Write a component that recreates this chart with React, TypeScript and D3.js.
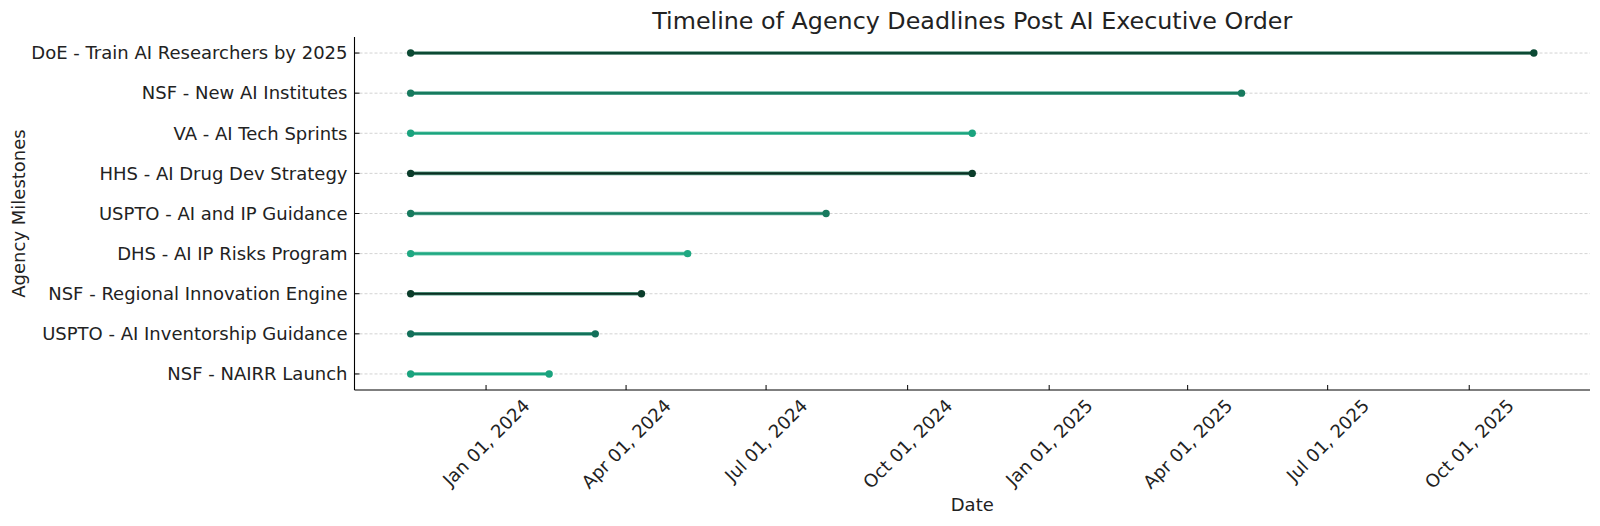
import React, { useEffect, useRef } from "react";
import * as d3 from "d3";

const milestones = [
  "NSF - NAIRR Launch",
  "USPTO - AI Inventorship Guidance",
  "NSF - Regional Innovation Engine",
  "DHS - AI IP Risks Program",
  "USPTO - AI and IP Guidance",
  "HHS - AI Drug Dev Strategy",
  "VA - AI Tech Sprints",
  "NSF - New AI Institutes",
  "DoE - Train AI Researchers by 2025",
];
const startDates = [
  "2023-11-13", "2023-11-13", "2023-11-13", "2023-11-13", "2023-11-13",
  "2023-11-13", "2023-11-13", "2023-11-13", "2023-11-13",
];
const endDates = [
  "2024-02-11", "2024-03-12", "2024-04-11", "2024-05-11", "2024-08-09",
  "2024-11-12", "2024-11-12", "2025-05-06", "2025-11-12",
];
const tickDates = [
  "2024-01-01", "2024-04-01", "2024-07-01", "2024-10-01",
  "2025-01-01", "2025-04-01", "2025-07-01", "2025-10-01",
];
const lineColors = ["#1aa37e", "#13705a", "#0a2f22", "#1fa882", "#177a5e", "#0a2f22", "#1aa37e", "#177a5e", "#0c4a34"];
const haloColors = ["#4cbf9c", "#3a9a80", "#2f8a6c", "#4cbf9c", "#3a9a80", "#2f8a6c", "#4cbf9c", "#3a9a80", "#3a7a62"];
const markerColors = ["#1aa37e", "#13705a", "#0b3d2b", "#1fa882", "#177a5e", "#0b3d2b", "#1aa37e", "#177a5e", "#0c4a34"];

const W = 1600, H = 526;
const L = 354.5, R = 1590, T = 37, B = 390;
const FONT = "DejaVu Sans, sans-serif";
const FS = 18;

export default function App() {
  const ref = useRef<SVGSVGElement>(null);
  useEffect(() => {
    const svg = d3.select(ref.current);
    svg.selectAll("*").remove();
    const parse = d3.utcParse("%Y-%m-%d");
    const s = startDates.map((d) => parse(d) as Date);
    const e = endDates.map((d) => parse(d) as Date);
    const minD = d3.min(s)!.getTime();
    const maxD = d3.max(e)!.getTime();
    const pad = (maxD - minD) * 0.05;
    const x = d3.scaleUtc().domain([new Date(minD - pad), new Date(maxD + pad)]).range([L, R]);
    const n = milestones.length;
    const y = d3.scaleLinear().domain([-0.4, n - 1 + 0.4]).range([B, T]);

    // grid
    svg.append("g").selectAll("line").data(milestones).join("line")
      .attr("x1", L).attr("x2", R)
      .attr("y1", (_, i) => y(i)).attr("y2", (_, i) => y(i))
      .attr("stroke", "#c8c8c8").attr("stroke-width", 0.8)
      .attr("stroke-dasharray", "3,2");

    // lines
    const g = svg.append("g");
    milestones.forEach((_, i) => {
      g.append("line").attr("x1", x(s[i])).attr("x2", x(e[i]))
        .attr("y1", y(i)).attr("y2", y(i))
        .attr("stroke", haloColors[i]).attr("stroke-width", 3.6).attr("opacity", 0.8);
      g.append("line").attr("x1", x(s[i])).attr("x2", x(e[i]))
        .attr("y1", y(i)).attr("y2", y(i))
        .attr("stroke", lineColors[i]).attr("stroke-width", 2.2);
      [s[i], e[i]].forEach((d) => {
        g.append("circle").attr("cx", x(d)).attr("cy", y(i)).attr("r", 3.7)
          .attr("fill", markerColors[i]);
      });
    });

    // spines
    svg.append("line").attr("x1", L).attr("x2", L).attr("y1", T).attr("y2", B)
      .attr("stroke", "#000").attr("stroke-width", 1.1);
    svg.append("line").attr("x1", L).attr("x2", R).attr("y1", B).attr("y2", B)
      .attr("stroke", "#000").attr("stroke-width", 1.1);

    // y ticks (inward) + labels
    milestones.forEach((m, i) => {
      svg.append("line").attr("x1", L).attr("x2", L + 5).attr("y1", y(i)).attr("y2", y(i))
        .attr("stroke", "#000").attr("stroke-width", 1);
      svg.append("text").attr("x", L - 7).attr("y", y(i)).attr("dy", "0.35em")
        .attr("text-anchor", "end").attr("font-family", FONT).attr("font-size", FS)
        .attr("fill", "#222").text(m);
    });

    // x ticks (inward) + rotated labels
    const fmt = d3.utcFormat("%b %d, %Y");
    tickDates.forEach((td) => {
      const d = parse(td) as Date;
      const xp = x(d);
      svg.append("line").attr("x1", xp).attr("x2", xp).attr("y1", B).attr("y2", B - 5)
        .attr("stroke", "#000").attr("stroke-width", 1);
      const t = svg.append("text").attr("font-family", FONT).attr("font-size", FS)
        .attr("fill", "#222").attr("text-anchor", "middle")
        .attr("dominant-baseline", "central").text(fmt(d));
      const w = (t.node() as SVGTextElement).getComputedTextLength();
      const h = FS * 1.0;
      const bh = (w + h) * Math.SQRT1_2;
      const cy = B + 6 + bh / 2;
      t.attr("x", xp).attr("y", cy).attr("transform", `rotate(-45,${xp},${cy})`);
    });

    // axis labels
    svg.append("text").attr("x", (L + R) / 2).attr("y", 511).attr("text-anchor", "middle")
      .attr("font-family", FONT).attr("font-size", FS).attr("fill", "#222").text("Date");
    svg.append("text").attr("transform", `translate(25,${(T + B) / 2}) rotate(-90)`)
      .attr("text-anchor", "middle").attr("font-family", FONT).attr("font-size", FS)
      .attr("fill", "#222").text("Agency Milestones");
    // title
    svg.append("text").attr("x", (L + R) / 2).attr("y", 29).attr("text-anchor", "middle")
      .attr("font-family", FONT).attr("font-size", 23.8).attr("fill", "#222")
      .text("Timeline of Agency Deadlines Post AI Executive Order");
  }, []);
  return (
    <svg ref={ref} width={W} height={H}
      style={{ position: "absolute", left: 0, top: 0, background: "#fff" }} />
  );
}
